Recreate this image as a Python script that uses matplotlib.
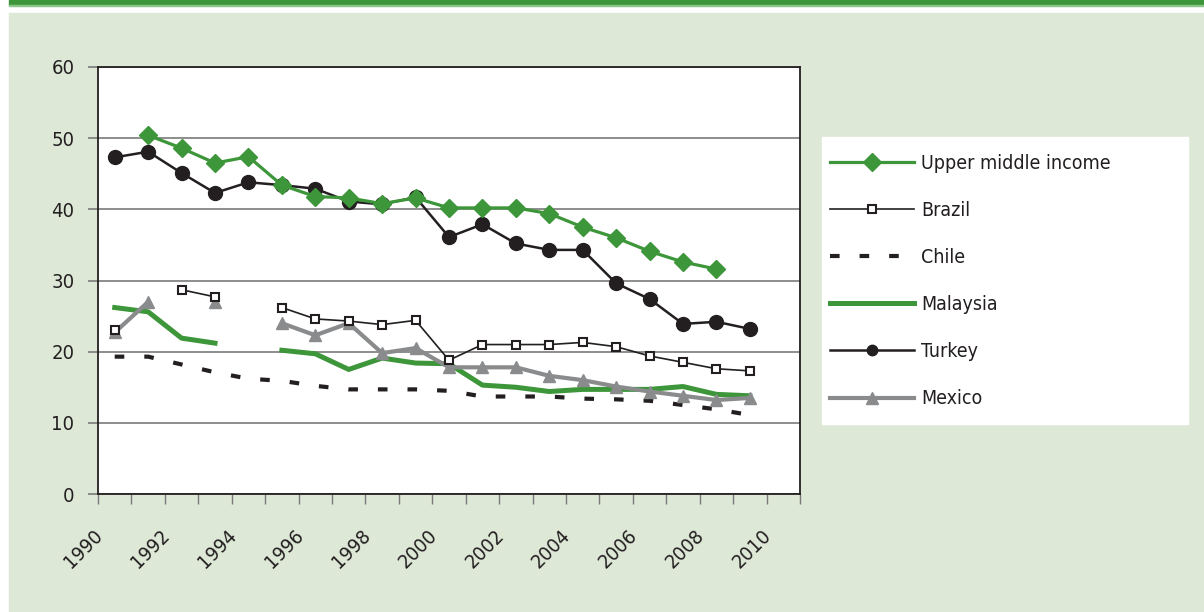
import numpy as np
import matplotlib
matplotlib.use('Agg')
import matplotlib.pyplot as plt
from matplotlib.patches import Rectangle
from matplotlib.transforms import ScaledTranslation

plt.rcParams['font.family'] = ['DejaVu Sans']
plt.rcParams['font.stretch'] = 'condensed'

years = list(range(1990, 2011))
nan = np.nan

# values (nan = no data)
upper_middle = [nan, 50.4, 48.6, 46.5, 47.4, 43.4, 41.8, 41.6, 40.8, 41.6,
                40.2, 40.2, 40.2, 39.4, 37.5, 36.0, 34.1, 32.6, 31.6, nan, nan]
brazil = [23.1, nan, 28.7, 27.7, nan, 26.2, 24.6, 24.3, 23.8, 24.4,
          18.8, 21.0, 21.0, 21.0, 21.3, 20.7, 19.4, 18.5, 17.6, 17.3, nan]
chile = [19.3, 19.3, 18.2, 17.1, 16.2, 15.9, 15.2, 14.7, 14.7, 14.7,
         14.5, 13.7, 13.7, 13.7, 13.4, 13.3, 13.1, 12.5, 11.9, 11.1, nan]
malaysia = [26.2, 25.6, 21.9, 21.2, nan, 20.2, 19.7, 17.5, 19.1, 18.4,
            18.3, 15.3, 15.0, 14.4, 14.7, 14.7, 14.7, 15.1, 14.0, 13.8, nan]
turkey = [47.3, 48.1, 45.1, 42.3, 43.8, 43.4, 42.9, 41.1, 40.7, 41.7,
          36.1, 37.9, 35.2, 34.3, 34.3, 29.6, 27.4, 23.9, 24.2, 23.2, nan]
mexico = [22.7, 27.0, nan, 27.0, nan, 24.0, 22.3, 24.0, 19.8, 20.5,
          17.8, 17.8, 17.8, 16.6, 16.0, 15.1, 14.4, 13.8, 13.2, 13.5, nan]

green = '#3d9639'
dark = '#231f20'
grey = '#8a8b8d'
bg = '#dde8d7'

fig = plt.figure(figsize=(12.04, 6.12), dpi=100)
fig.patch.set_facecolor('white')
W, H = 1204, 612

# light green panel and green header bar
fig.patches.append(Rectangle((9 / W, 0), 1, 1 - 13 / H, transform=fig.transFigure,
                             color=bg, zorder=-2))
fig.patches.append(Rectangle((9 / W, 1 - 5 / H), 1, 5 / H, transform=fig.transFigure,
                             color=green, zorder=-2))
fig.patches.append(Rectangle((9 / W, 1 - 6 / H), 1, 1 / H, transform=fig.transFigure,
                             color='#8cc58a', zorder=-2))
# legend panel
fig.patches.append(Rectangle((822 / W, 1 - 424 / H), (1188 - 822) / W, (424 - 137) / H,
                             transform=fig.transFigure, color='white', zorder=-1))

ax = fig.add_axes([98 / W, 1 - 494 / H, (800 - 98) / W, (494 - 67) / H])
ax.set_zorder(2)
ax.set_facecolor('white')

x = np.arange(len(years)) + 0.5

ax.plot(x, chile, color=dark, lw=3.0, linestyle=(0, (2.3, 4.8)), label='Chile', zorder=3)
ax.plot(x, malaysia, color=green, lw=3.6, label='Malaysia', zorder=3)
ax.plot(x, mexico, color=grey, lw=3.0, marker='^', ms=9, label='Mexico', zorder=4)
ax.plot(x, brazil, color=dark, lw=1.2, marker='s', ms=5.5, mfc='white', mec=dark,
        mew=1.5, label='Brazil', zorder=5)
ax.plot(x, turkey, color=dark, lw=1.8, marker='o', ms=10, label='Turkey', zorder=6)
ax.plot(x, upper_middle, color=green, lw=2.3, marker='D', ms=9,
        label='Upper middle income', zorder=7)

ax.set_xlim(0, len(years))
ax.set_ylim(0, 60)
ax.set_yticks(range(0, 61, 10))
ax.grid(axis='y', color='#7a7a7a', lw=1.2)
ax.set_axisbelow(True)
for s in ax.spines.values():
    s.set_color(dark)
    s.set_linewidth(1.3)

ax.tick_params(axis='y', length=7, width=1.2, color='#7a7a7a', labelsize=14.5,
               labelcolor=dark, pad=10)
ax.set_xticks(range(len(years) + 1))
ax.set_xticklabels([])
ax.tick_params(axis='x', length=7, width=1, color='#7a7a7a')

off = ScaledTranslation(-15 / 100, -39 / 100, fig.dpi_scale_trans)
for i, yr in enumerate(years):
    if yr % 2 == 0:
        ax.text(x[i], 0, str(yr), transform=ax.get_xaxis_transform() + off,
                rotation=45, rotation_mode='anchor', ha='right', va='center',
                fontsize=14.5, color=dark, clip_on=False)

handles, labels = ax.get_legend_handles_labels()
order = ['Upper middle income', 'Brazil', 'Chile', 'Malaysia', 'Turkey', 'Mexico']
hl = dict(zip(labels, handles))
leg = fig.legend([hl[k] for k in order], order, loc='center left',
                 bbox_to_anchor=(830 / W, 1 - 281 / H), frameon=False,
                 fontsize=14, handlelength=4.3, handletextpad=0.4,
                 labelspacing=1.45, borderpad=0, borderaxespad=0, numpoints=1)
for t in leg.get_texts():
    t.set_color(dark)
sizes = {'Turkey': 7.5, 'Mexico': 8, 'Upper middle income': 9, 'Brazil': 5.5}
for h, name in zip(leg.legend_handles, order):
    if name in sizes:
        h.set_markersize(sizes[name])

fig.savefig('out.png', dpi=100, facecolor=fig.get_facecolor())
